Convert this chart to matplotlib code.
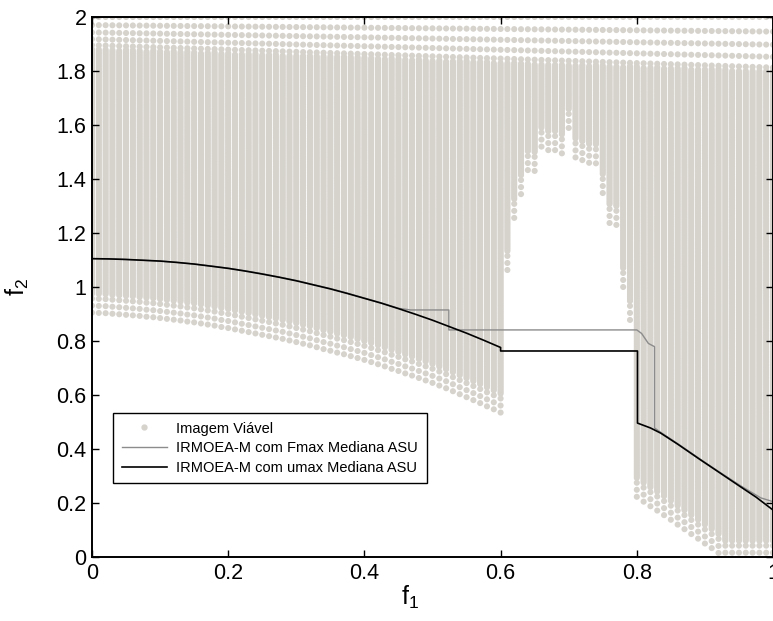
import numpy as np
import matplotlib
matplotlib.use("Agg")
import matplotlib.pyplot as plt
from matplotlib.lines import Line2D

plt.rcParams['font.family'] = ['Liberation Sans', 'DejaVu Sans']
plt.rcParams['mathtext.fontset'] = 'custom'
plt.rcParams['mathtext.rm'] = 'Liberation Sans'
plt.rcParams['mathtext.it'] = 'Liberation Sans'

# ---- feasible image: one column of points per f1 value, from its lower edge up to f2 = 2
f1_columns = [
    0.00, 0.01, 0.02, 0.03, 0.04, 0.05, 0.06, 0.07, 0.08, 0.09,
    0.10, 0.11, 0.12, 0.13, 0.14, 0.15, 0.16, 0.17, 0.18, 0.19,
    0.20, 0.21, 0.22, 0.23, 0.24, 0.25, 0.26, 0.27, 0.28, 0.29,
    0.30, 0.31, 0.32, 0.33, 0.34, 0.35, 0.36, 0.37, 0.38, 0.39,
    0.40, 0.41, 0.42, 0.43, 0.44, 0.45, 0.46, 0.47, 0.48, 0.49,
    0.50, 0.51, 0.52, 0.53, 0.54, 0.55, 0.56, 0.57, 0.58, 0.59,
    0.60, 0.61, 0.62, 0.63, 0.64, 0.65, 0.66, 0.67, 0.68, 0.69,
    0.70, 0.71, 0.72, 0.73, 0.74, 0.75, 0.76, 0.77, 0.78, 0.79,
    0.80, 0.81, 0.82, 0.83, 0.84, 0.85, 0.86, 0.87, 0.88, 0.89,
    0.90, 0.91, 0.92, 0.93, 0.94, 0.95, 0.96, 0.97, 0.98, 0.99,
    1.00,
]
f2_column_low = [
    0.905, 0.904, 0.903, 0.901, 0.899, 0.897, 0.895, 0.893, 0.890, 0.888,
    0.885, 0.882, 0.879, 0.876, 0.872, 0.869, 0.865, 0.861, 0.857, 0.852,
    0.848, 0.843, 0.838, 0.833, 0.828, 0.823, 0.818, 0.813, 0.808, 0.802,
    0.796, 0.790, 0.784, 0.777, 0.770, 0.764, 0.757, 0.751, 0.744, 0.737,
    0.730, 0.722, 0.714, 0.706, 0.697, 0.689, 0.680, 0.672, 0.663, 0.654,
    0.645, 0.635, 0.625, 0.614, 0.603, 0.592, 0.581, 0.570, 0.558, 0.547,
    0.535, 1.063, 1.256, 1.344, 1.433, 1.430, 1.520, 1.507, 1.507, 1.495,
    1.589, 1.480, 1.470, 1.460, 1.458, 1.348, 1.237, 1.230, 1.000, 0.878,
    0.223, 0.205, 0.188, 0.172, 0.155, 0.138, 0.120, 0.103, 0.085, 0.068,
    0.050, 0.033, 0.015, -0.01, -0.01, -0.01, -0.01, -0.01, -0.01, -0.01,
    -0.01,
]
f2_top = 2.0

# ---- IRMOEA-M median attainment curves
fmax_f1 = [0.000, 0.025, 0.050, 0.075, 0.100, 0.125, 0.150, 0.175, 0.200, 0.225,
           0.250, 0.275, 0.300, 0.325, 0.350, 0.375, 0.400, 0.425, 0.450, 0.468,
           0.524, 0.524, 0.800, 0.807, 0.817, 0.826, 0.826, 0.835, 0.860, 0.894,
           0.920, 0.953, 0.982, 1.000]
fmax_f2 = [1.105, 1.104, 1.102, 1.099, 1.096, 1.091, 1.085, 1.078, 1.070, 1.060,
           1.049, 1.037, 1.024, 1.009, 0.994, 0.977, 0.959, 0.941, 0.921, 0.915,
           0.915, 0.841, 0.841, 0.828, 0.791, 0.779, 0.478, 0.462, 0.420, 0.361,
           0.317, 0.263, 0.219, 0.205]

umax_f1 = [0.000, 0.025, 0.050, 0.075, 0.100, 0.125, 0.150, 0.175, 0.200, 0.225,
           0.250, 0.275, 0.300, 0.325, 0.350, 0.375, 0.400, 0.425, 0.450, 0.475,
           0.500, 0.525, 0.550, 0.575, 0.600, 0.600, 0.801, 0.801, 0.820, 0.835,
           0.860, 0.894, 0.920, 0.953, 0.975, 1.000]
umax_f2 = [1.105, 1.104, 1.102, 1.099, 1.096, 1.091, 1.085, 1.077, 1.069, 1.059,
           1.048, 1.036, 1.023, 1.008, 0.993, 0.976, 0.958, 0.940, 0.920, 0.899,
           0.877, 0.853, 0.829, 0.803, 0.776, 0.763, 0.763, 0.496, 0.478, 0.459,
           0.418, 0.359, 0.315, 0.259, 0.222, 0.174]

legend_labels = ['Imagem Viável',
                 'IRMOEA-M com Fmax Mediana ASU',
                 'IRMOEA-M com umax Mediana ASU']

dot_color = '#d6d2cc'
fmax_color = '#8c8c8c'
umax_color = '#000000'

# dot texture: sparse rows at the lower edge and near the top, dense in between
def column_points(x, lo):
    pts = []
    edge = [lo, lo + 0.026, lo + 0.052]
    pts.extend(edge)
    stretch = 1.0 + 0.8 * x
    top_rows = [f2_top - d * stretch for d in (0.0, 0.03, 0.057, 0.082, 0.104)]
    dense_hi = top_rows[-1] - 0.012
    pts.extend(np.arange(lo + 0.07, dense_hi, 0.006))
    pts.extend(top_rows)
    return pts

xs, ys = [], []
for x, lo in zip(f1_columns, f2_column_low):
    p = column_points(x, lo)
    xs.extend([x] * len(p))
    ys.extend(p)

fig = plt.figure(figsize=(7.73, 6.21), dpi=100)
ax = fig.add_axes([92 / 773, 64 / 621, 681 / 773, 540 / 621])

ax.scatter(xs, ys, s=19, color=dot_color, edgecolors='none', zorder=1)
ax.plot(fmax_f1, fmax_f2, color=fmax_color, lw=1.0, zorder=3)
ax.plot(umax_f1, umax_f2, color=umax_color, lw=1.2, zorder=4)

ax.set_xlim(0, 1)
ax.set_ylim(0, 2)
ax.set_xticks([0, 0.2, 0.4, 0.6, 0.8, 1.0])
ax.set_xticklabels(['0', '0.2', '0.4', '0.6', '0.8', '1'])
ax.set_yticks([0, 0.2, 0.4, 0.6, 0.8, 1.0, 1.2, 1.4, 1.6, 1.8, 2.0])
ax.set_yticklabels(['0', '0.2', '0.4', '0.6', '0.8', '1', '1.2', '1.4', '1.6', '1.8', '2'])
ax.tick_params(direction='in', length=5, width=1, labelsize=15.5,
               top=True, right=True, pad=4)
for sp in ax.spines.values():
    sp.set_linewidth(1.4)
    sp.set_zorder(5)

ax.set_xlabel(r'$\mathregular{f_1}$', fontsize=18)
ax.set_ylabel(r'$\mathregular{f_2}$', fontsize=18)
ax.xaxis.set_label_coords(0.467, -0.05)
ax.yaxis.set_label_coords(-0.09, 0.5)

handles = [
    Line2D([], [], marker='o', markersize=3.5, color=dot_color, linestyle='none'),
    Line2D([], [], color=fmax_color, lw=1.0),
    Line2D([], [], color=umax_color, lw=1.2),
]
leg = ax.legend(handles, legend_labels, loc='upper left',
                bbox_to_anchor=(0.031, 0.267), fontsize=10.5,
                frameon=True, fancybox=False, framealpha=1, edgecolor='black',
                handlelength=3.1, handletextpad=0.62, borderpad=0.6,
                labelspacing=0.38, borderaxespad=0)
leg.get_frame().set_linewidth(1.0)
leg.set_zorder(6)

fig.savefig('out.png', dpi=100)
